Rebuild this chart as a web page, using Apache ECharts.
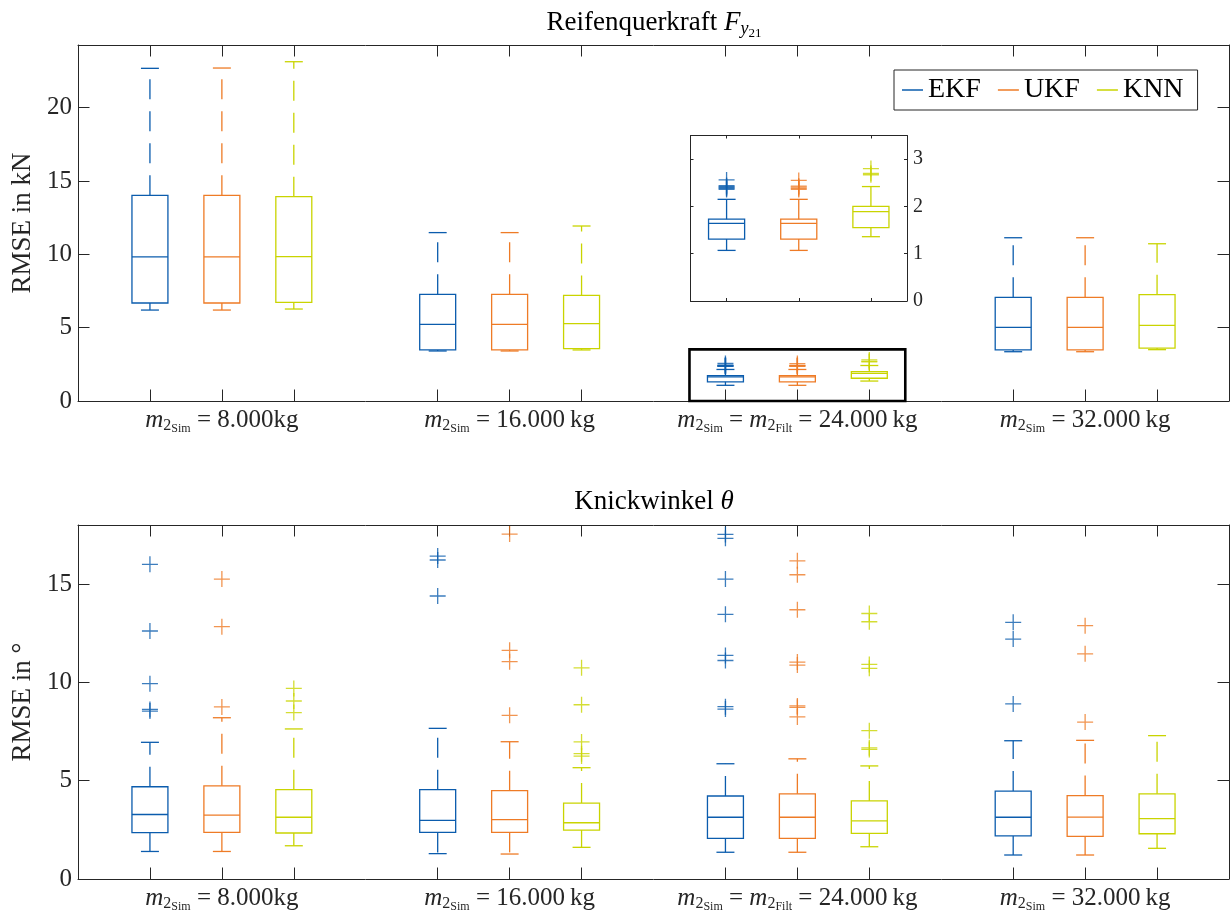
<!DOCTYPE html>
<html>
<head>
<meta charset="utf-8">
<script src="https://cdn.jsdelivr.net/npm/echarts@6/dist/echarts.min.js"></script>
<style>
html, body { margin: 0; padding: 0; background: #fff; }
#box { width: 1230px; height: 913px; }
</style>
</head>
<body>
<div id="box"></div>
<script>
// box positions on the x axis (0..16)
var posEKF = [1, 5, 9, 13];
var posUKF = [2, 6, 10, 14];
var posKNN = [3, 7, 11, 15];
var groupTicks = [2, 6, 10, 14];
var boxTicks = [1, 2, 3, 5, 6, 7, 9, 10, 11, 13, 14, 15];

// [lower whisker, Q1, median, Q3, upper whisker] per mass group
var forceEKF = [[6.20, 6.68, 9.82, 14.02, 22.68], [3.41, 3.48, 5.23, 7.27, 11.48], [1.07, 1.31, 1.64, 1.73, 2.15], [3.36, 3.48, 5.02, 7.07, 11.13]];
var forceUKF = [[6.20, 6.68, 9.82, 14.02, 22.70], [3.41, 3.48, 5.23, 7.27, 11.48], [1.07, 1.31, 1.64, 1.73, 2.15], [3.36, 3.48, 5.02, 7.07, 11.13]];
var forceKNN = [[6.27, 6.73, 9.84, 13.93, 23.13], [3.48, 3.57, 5.27, 7.20, 11.93], [1.36, 1.55, 1.89, 2.00, 2.42], [3.50, 3.61, 5.16, 7.25, 10.72]];
var forceOutEKF = [[], [], [2.56, 2.44, 2.42, 2.40, 2.38, 2.36], []];
var forceOutUKF = [[], [], [2.55, 2.43, 2.41, 2.38, 2.36], []];
var forceOutKNN = [[], [], [2.80, 2.70, 2.67], []];

var angleEKF = [[1.40, 2.36, 3.28, 4.69, 6.95], [1.29, 2.37, 2.98, 4.54, 7.66], [1.36, 2.07, 3.14, 4.22, 5.86], [1.22, 2.19, 3.14, 4.47, 7.03]];
var angleUKF = [[1.40, 2.37, 3.25, 4.74, 8.20], [1.27, 2.37, 3.02, 4.49, 6.98], [1.36, 2.07, 3.14, 4.33, 6.11], [1.22, 2.17, 3.15, 4.24, 7.05]];
var angleKNN = [[1.69, 2.34, 3.14, 4.54, 7.63], [1.61, 2.49, 2.86, 3.86, 5.66], [1.64, 2.32, 2.96, 3.97, 5.75], [1.56, 2.30, 3.07, 4.33, 7.29]];
var angleOutEKF = [[16.0, 12.61, 9.93, 8.62, 8.54], [16.42, 16.22, 14.39], [17.52, 17.32, 15.25, 13.46, 11.37, 11.11, 8.76, 8.64], [13.05, 12.2, 8.9]];
var angleOutUKF = [[15.25, 12.83, 8.75], [17.54, 11.63, 11.05, 8.32], [16.18, 15.47, 13.69, 11.03, 10.88, 8.80, 8.73, 8.24], [12.88, 11.45, 7.98]];
var angleOutKNN = [[9.69, 9.05, 8.46], [10.74, 8.86, 6.97, 6.37, 6.25], [13.5, 13.08, 10.91, 10.71, 7.54, 6.67, 6.59], []];

var zoomBox = [[8.5, 0, 11.5, 3.52]];
var forceTicks = [0, 5, 10, 15, 20];
var angleTicks = [0, 5, 10, 15];
var insetTicks = [0, 1, 2, 3];

var groupLabels = {
	2: '{m|m}{s|2}{ss|Sim}{t| = 8.000kg}',
	6: '{m|m}{s|2}{ss|Sim}{t| = 16.000\u2009kg}',
	10: '{m|m}{s|2}{ss|Sim}{t| = }{m|m}{s|2}{ss|Filt}{t| = 24.000\u2009kg}',
	14: '{m|m}{s|2}{ss|Sim}{t| = 32.000\u2009kg}'
};

var colors = { EKF: '#0b5cad', UKF: '#ee7b26', KNN: '#c9d400' };
var FONT = 'Liberation Serif';
var AXC = '#262626';
var PLUS = 'path://M8,0 L8,16 M0,8 L16,8';

function boxData(pos, stats, only) {
	var out = [];
	for (var i = 0; i < stats.length; i++) {
		if (only != null && i != only) continue;
		out.push([pos[i]].concat(stats[i]));
	}
	return out;
}
function outData(pos, lists, only) {
	var out = [];
	for (var i = 0; i < lists.length; i++) {
		if (only != null && i != only) continue;
		lists[i].forEach(function (v) { out.push([pos[i], v]); });
	}
	return out;
}

function boxRenderer(color) {
	return function (params, api) {
		var x = api.value(0);
		var lo = api.coord([x, api.value(1)]);
		var q1 = api.coord([x, api.value(2)]);
		var md = api.coord([x, api.value(3)]);
		var q3 = api.coord([x, api.value(4)]);
		var hi = api.coord([x, api.value(5)]);
		var w = api.size([0.5, 0])[0];
		var cx = md[0];
		var st = { stroke: color, fill: 'none', lineWidth: 1.3 };
		var dash = { stroke: color, fill: 'none', lineWidth: 1.3, lineDash: [20, 12] };
		return {
			type: 'group',
			children: [
				{ type: 'rect', shape: { x: cx - w / 2, y: q3[1], width: w, height: q1[1] - q3[1] }, style: st },
				{ type: 'line', shape: { x1: cx - w / 2, y1: md[1], x2: cx + w / 2, y2: md[1] }, style: st },
				{ type: 'line', shape: { x1: cx, y1: q3[1], x2: cx, y2: hi[1] }, style: dash },
				{ type: 'line', shape: { x1: cx, y1: q1[1], x2: cx, y2: lo[1] }, style: dash },
				{ type: 'line', shape: { x1: cx - w / 4, y1: hi[1], x2: cx + w / 4, y2: hi[1] }, style: st },
				{ type: 'line', shape: { x1: cx - w / 4, y1: lo[1], x2: cx + w / 4, y2: lo[1] }, style: st }
			]
		};
	};
}

function zoomRenderer(params, api) {
	var a = api.coord([api.value(0), api.value(1)]);
	var b = api.coord([api.value(2), api.value(3)]);
	return {
		type: 'rect',
		shape: { x: a[0], y: b[1], width: b[0] - a[0], height: a[1] - b[1] },
		style: { stroke: '#000', fill: 'none', lineWidth: 2.6 }
	};
}

var labelRich = {
	m: { fontFamily: FONT, fontStyle: 'italic', fontSize: 25, color: AXC },
	s: { fontFamily: FONT, fontSize: 16, color: AXC, padding: [10, 0, 0, 0] },
	ss: { fontFamily: FONT, fontSize: 12, color: AXC, padding: [17, 0, 0, 0] },
	t: { fontFamily: FONT, fontSize: 25, color: AXC }
};

function xAxisDef(grid, pos, min, max, ticks, len, labels) {
	return {
		type: 'value', gridIndex: grid, position: pos, min: min, max: max,
		axisLine: { show: true, onZero: false, lineStyle: { color: AXC, width: 1 } },
		axisTick: { show: true, inside: true, length: len, customValues: ticks, lineStyle: { color: AXC } },
		axisLabel: labels ? {
			show: true, customValues: groupTicks, margin: 5,
			formatter: function (v) { return groupLabels[v] || ''; },
			rich: labelRich
		} : { show: false },
		splitLine: { show: false }
	};
}
function yAxisDef(grid, pos, min, max, ticks, len, labels, fs, name) {
	return {
		type: 'value', gridIndex: grid, position: pos, min: min, max: max,
		name: name || '', nameLocation: 'middle', nameGap: 42, nameRotate: 90,
		nameTextStyle: { fontFamily: FONT, fontSize: 27, color: AXC },
		axisLine: { show: true, onZero: false, lineStyle: { color: AXC, width: 1 } },
		axisTick: { show: true, inside: true, length: len, customValues: ticks, lineStyle: { color: AXC } },
		axisLabel: labels ? { show: true, customValues: ticks, margin: 6, fontFamily: FONT, fontSize: fs, color: AXC } : { show: false },
		splitLine: { show: false }
	};
}

var series = [];
function addSet(name, pos, stats, outs, xi, yi, only) {
	series.push({
		type: 'custom', name: name, xAxisIndex: xi, yAxisIndex: yi,
		renderItem: boxRenderer(colors[name]), itemStyle: { color: colors[name] },
		encode: { x: 0, y: [1, 2, 3, 4, 5] },
		data: boxData(pos, stats, only), silent: true, z: 3
	});
	series.push({
		type: 'scatter', name: name, xAxisIndex: xi, yAxisIndex: yi,
		symbol: PLUS, symbolSize: 16,
		itemStyle: { color: 'none', borderColor: colors[name], borderWidth: 1.3 },
		data: outData(pos, outs, only), silent: true, z: 3
	});
}
addSet('EKF', posEKF, forceEKF, forceOutEKF, 0, 0);
addSet('UKF', posUKF, forceUKF, forceOutUKF, 0, 0);
addSet('KNN', posKNN, forceKNN, forceOutKNN, 0, 0);
addSet('EKF', posEKF, angleEKF, angleOutEKF, 2, 2);
addSet('UKF', posUKF, angleUKF, angleOutUKF, 2, 2);
addSet('KNN', posKNN, angleKNN, angleOutKNN, 2, 2);
addSet('EKF', posEKF, forceEKF, forceOutEKF, 4, 4, 2);
addSet('UKF', posUKF, forceUKF, forceOutUKF, 4, 4, 2);
addSet('KNN', posKNN, forceKNN, forceOutKNN, 4, 4, 2);
series.push({
	type: 'custom', name: 'zoom', xAxisIndex: 0, yAxisIndex: 0,
	renderItem: zoomRenderer, data: zoomBox, silent: true, z: 4
});

var myChart = echarts.init(document.getElementById('box'));
var option = {
	animation: false,
	backgroundColor: '#fff',
	grid: [
		{ left: 78, top: 45, width: 1151, height: 356, outerBoundsMode: 'none', containLabel: false },
		{ left: 78, top: 525, width: 1151, height: 354, outerBoundsMode: 'none', containLabel: false },
		{ left: 690.5, top: 135.5, width: 216.5, height: 165.5, outerBoundsMode: 'none', containLabel: false }
	],
	xAxis: [
		xAxisDef(0, 'bottom', 0, 16, boxTicks, 11.5, true),
		xAxisDef(0, 'top', 0, 16, boxTicks, 11.5, false),
		xAxisDef(1, 'bottom', 0, 16, boxTicks, 11.5, true),
		xAxisDef(1, 'top', 0, 16, boxTicks, 11.5, false),
		xAxisDef(2, 'bottom', 8.5, 11.5, [9, 10, 11], 3, false),
		xAxisDef(2, 'top', 8.5, 11.5, [9, 10, 11], 3, false)
	],
	yAxis: [
		yAxisDef(0, 'left', 0, 24.27, forceTicks, 11.5, true, 25, 'RMSE in kN'),
		yAxisDef(0, 'right', 0, 24.27, forceTicks, 11.5, false, 25),
		yAxisDef(1, 'left', 0, 18, angleTicks, 11.5, true, 25, 'RMSE in \u00b0'),
		yAxisDef(1, 'right', 0, 18, angleTicks, 11.5, false, 25),
		yAxisDef(2, 'left', 0, 3.5, insetTicks, 3, false, 20),
		yAxisDef(2, 'right', 0, 3.5, insetTicks, 3, true, 20)
	],
	legend: {
		left: 894, top: 70,
		orient: 'horizontal',
		padding: [6, 14, 6, 8],
		itemGap: 17, itemWidth: 21, itemHeight: 1.5,
		icon: 'rect',
		borderColor: AXC, borderWidth: 1, backgroundColor: '#fff',
		textStyle: { fontFamily: FONT, fontSize: 28, color: '#000' },
		data: [
			{ name: 'EKF', itemStyle: { color: colors.EKF } },
			{ name: 'UKF', itemStyle: { color: colors.UKF } },
			{ name: 'KNN', itemStyle: { color: colors.KNN } }
		],
		selectedMode: false
	},
	graphic: [
		{
			type: 'text', x: 654, y: 23,
			style: {
				text: '{r|Reifenquerkraft }{f|F}{y|y}{n|21}',
				align: 'center', verticalAlign: 'middle',
				rich: {
					r: { fontFamily: FONT, fontSize: 27, fill: '#000' },
					f: { fontFamily: FONT, fontStyle: 'italic', fontSize: 27, fill: '#000' },
					y: { fontFamily: FONT, fontStyle: 'italic', fontSize: 18, fill: '#000', padding: [12, 0, 0, 0] },
					n: { fontFamily: FONT, fontSize: 13, fill: '#000', padding: [22, 0, 0, 0] }
				}
			}
		},
		{
			type: 'text', x: 654, y: 502,
			style: {
				text: '{r|Knickwinkel }{t|\u03b8}',
				align: 'center', verticalAlign: 'middle',
				rich: {
					r: { fontFamily: FONT, fontSize: 27, fill: '#000' },
					t: { fontFamily: FONT, fontStyle: 'italic', fontSize: 27, fill: '#000' }
				}
			}
		}
	],
	series: series
};
myChart.setOption(option);
</script>
</body>
</html>
